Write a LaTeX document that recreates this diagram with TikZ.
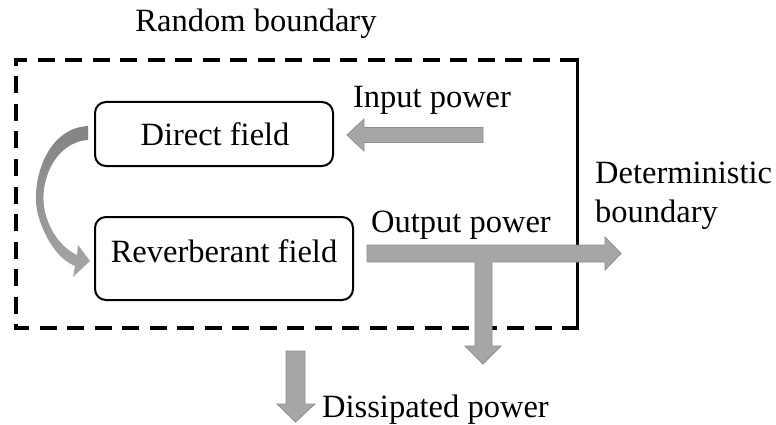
\documentclass[tikz,border=0pt]{standalone}
\usepackage{fontspec}
\setmainfont{Liberation Serif}
\definecolor{arrowgray}{HTML}{A6A6A6}
\definecolor{arrowedge}{HTML}{8F8F8F}
\begin{document}
\begin{tikzpicture}[x=1pt,y=-1pt,
  lbl/.style={font=\fontsize{32.5}{39}\selectfont, inner sep=0pt},
  fieldbox/.style={draw=black, line width=2pt, rounded corners=11pt},
  blockarrow/.style={fill=arrowgray, draw=arrowedge, line width=0.8pt, line join=miter},
  boundary/.style={line width=3.6pt, dash pattern=on 17pt off 10.5pt},
]
\useasboundingbox (0,0) rectangle (776,425);

% boundary
\draw[boundary] (577,60) -- (16,60) -- (16,328) -- (577,328);
\draw[line width=3pt] (577,58.2) -- (577,329.8);

% field boxes
\draw[fieldbox] (95,102) rectangle (333,166);
\draw[fieldbox] (95,217) rectangle (353,300);
\node[lbl, anchor=base] (direct) at (215,146) {Direct field};
\node[lbl, anchor=base] (reverb) at (224,262) {Reverberant field};

% curved arrow
\shade[top color=arrowgray!60!black!80, bottom color=arrowgray, draw=none]
  (88,126) .. controls (45,128) and (30,185) .. (38,215)
  .. controls (46,242) and (60,260) .. (75,266)
  -- (73,277) -- (90,261) -- (78,245) -- (77,255)
  .. controls (62,248) and (50,232) .. (45,212)
  .. controls (38,182) and (55,142) .. (88,140) -- cycle;

% input arrow
\draw[blockarrow] (483,127.5) -- (364,127.5) -- (364,119) -- (347,135) -- (364,151) -- (364,142.5) -- (483,142.5) -- cycle;

% output horizontal
\draw[blockarrow] (367,245) -- (605,245) -- (605,237) -- (621,253.5) -- (605,270) -- (605,262) -- (367,262) -- cycle;
% output down
\fill[arrowgray] (475,261) -- (475,346) -- (465,346) -- (483,364) -- (501,346) -- (492,346) -- (492,261) -- cycle;
\draw[arrowedge, line width=0.8pt] (475,262) -- (475,346) -- (465,346) -- (483,364) -- (501,346) -- (492,346) -- (492,262);

% dissipated arrow
\draw[blockarrow] (286,351) -- (305,351) -- (305,404) -- (315,404) -- (295.5,422) -- (277,404) -- (286,404) -- cycle;

% labels
\node[lbl, anchor=base] (random) at (256,32) {Random boundary};
\node[lbl, anchor=base] (input) at (432,108) {Input power};
\node[lbl, anchor=base] (output) at (461,232) {Output power};
\node[lbl, anchor=base west] (det1) at (595,183) {Deterministic};
\node[lbl, anchor=base west] (det2) at (595,222) {boundary};
\node[lbl, anchor=base west] (diss) at (322,417) {Dissipated power};
\end{tikzpicture}
\end{document}
